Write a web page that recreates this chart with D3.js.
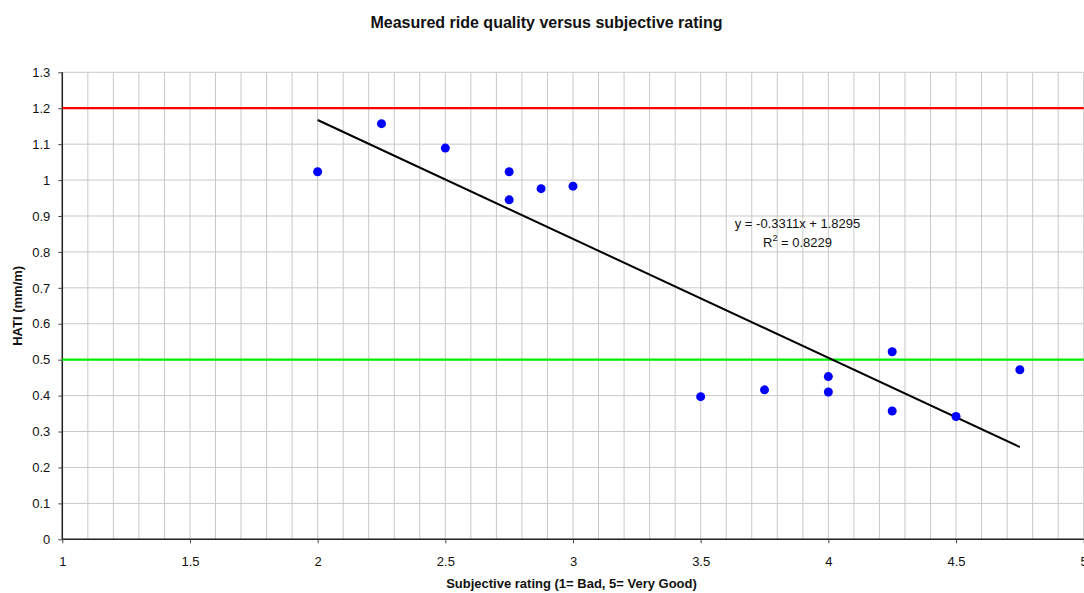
<!DOCTYPE html>
<html><head><meta charset="utf-8">
<script src="https://cdn.jsdelivr.net/npm/d3@7"></script>
<style>body{margin:0;background:#fff;font-family:"Liberation Sans",Arial,sans-serif;}</style>
</head><body>
<svg id="c" width="1084" height="593"></svg>
<script>
const ratings = [2.0, 2.25, 2.5, 2.75, 2.75, 2.875, 3.0, 3.5, 3.75, 4.0, 4.0, 4.25, 4.25, 4.5, 4.75];
const hati    = [1.023, 1.157, 1.089, 1.023, 0.945, 0.976, 0.983, 0.397, 0.416, 0.453, 0.410, 0.522, 0.357, 0.342, 0.472];
const slope = -0.3311, intercept = 1.8295;
const trendX = [2.0, 4.75];
const redLevel = 1.2, greenLevel = 0.5;
const xTicks = [1, 1.5, 2, 2.5, 3, 3.5, 4, 4.5, 5];
const yTicks = [0, 0.1, 0.2, 0.3, 0.4, 0.5, 0.6, 0.7, 0.8, 0.9, 1, 1.1, 1.2, 1.3];
const xGrid = d3.range(10, 51).map(d => d / 10);

const svg = d3.select("#c");
const L = 62.3, R = 1083.7, T = 72.3, B = 539.3;
const x = d3.scaleLinear().domain([1, 5]).range([L, R]);
const y = d3.scaleLinear().domain([0, 1.3]).range([B, T]);
const font = '"Liberation Sans", Arial, sans-serif';

// gridlines
svg.append("g").selectAll("line.v").data(xGrid).join("line")
  .attr("x1", d => x(d)).attr("x2", d => x(d)).attr("y1", T).attr("y2", B)
  .attr("stroke", "#c8c8c8").attr("stroke-width", 1);
svg.append("g").selectAll("line.h").data(yTicks).join("line")
  .attr("x1", L).attr("x2", R).attr("y1", d => y(d)).attr("y2", d => y(d))
  .attr("stroke", "#c8c8c8").attr("stroke-width", 1);

// axes
const xAxis = d3.axisBottom(x).tickValues(xTicks).tickSize(4).tickPadding(13).tickFormat(d3.format("~g"));
const gx = svg.append("g").attr("transform", `translate(0,${B})`).call(xAxis);
const yAxis = d3.axisLeft(y).tickValues(yTicks).tickSize(4).tickPadding(8).tickFormat(d3.format("~g"));
const gy = svg.append("g").attr("transform", `translate(${L},0)`).call(yAxis);
[gx, gy].forEach(g => {
  g.select(".domain").attr("stroke", "#222").attr("stroke-width", 1.5);
  g.selectAll(".tick line").attr("stroke", "#444");
  g.selectAll("text").attr("font-family", font).attr("font-size", 13).attr("fill", "#111");
});
gy.select(".domain").attr("d", `M0,${B}V${T}`);
gx.select(".domain").attr("d", `M${L},0H${R}`);

// threshold lines
svg.append("line").attr("x1", L).attr("x2", R).attr("y1", y(redLevel)).attr("y2", y(redLevel))
  .attr("stroke", "#ff0000").attr("stroke-width", 2.2);
svg.append("line").attr("x1", L).attr("x2", R).attr("y1", y(greenLevel)).attr("y2", y(greenLevel))
  .attr("stroke", "#00ee00").attr("stroke-width", 2.2);

// trend line
svg.append("line")
  .attr("x1", x(trendX[0])).attr("y1", y(slope * trendX[0] + intercept))
  .attr("x2", x(trendX[1])).attr("y2", y(slope * trendX[1] + intercept))
  .attr("stroke", "#000").attr("stroke-width", 2);

// points
svg.append("g").selectAll("circle").data(ratings.map((r, i) => [r, hati[i]])).join("circle")
  .attr("cx", d => x(d[0])).attr("cy", d => y(d[1])).attr("r", 4.5).attr("fill", "#0000ff");

// equation
const eq = svg.append("g").attr("font-family", font).attr("font-size", 13).attr("fill", "#111").attr("text-anchor", "middle");
eq.append("text").attr("x", 797.5).attr("y", 228).text("y = -0.3311x + 1.8295");
const r2 = eq.append("text").attr("x", 797.5).attr("y", 247);
r2.append("tspan").text("R");
r2.append("tspan").attr("dy", -6).attr("font-size", 9).text("2");
r2.append("tspan").attr("dy", 6).text(" = 0.8229");

// titles
svg.append("text").attr("x", 546.5).attr("y", 27.5).attr("text-anchor", "middle")
  .attr("font-family", font).attr("font-size", 16).attr("font-weight", "bold").attr("fill", "#111")
  .text("Measured ride quality versus subjective rating");
svg.append("text").attr("x", 571.5).attr("y", 588).attr("text-anchor", "middle")
  .attr("font-family", font).attr("font-size", 13).attr("font-weight", "bold").attr("fill", "#111")
  .text("Subjective rating (1= Bad, 5= Very Good)");
svg.append("text").attr("transform", `translate(22,${(T + B) / 2}) rotate(-90)`).attr("text-anchor", "middle")
  .attr("font-family", font).attr("font-size", 13).attr("font-weight", "bold").attr("fill", "#111")
  .text("HATI (mm/m)");
</script>
</body></html>
